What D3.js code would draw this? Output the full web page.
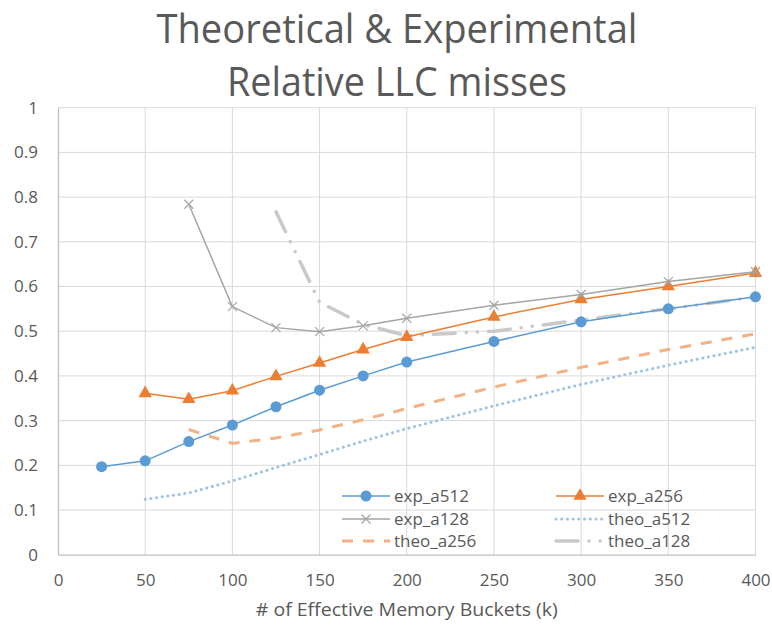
<!DOCTYPE html>
<html>
<head>
<meta charset="utf-8">
<script src="https://cdn.jsdelivr.net/npm/d3@7"></script>
<style>
  body { margin: 0; background: #fff; }
  text { font-family: "Open Sans", "Liberation Sans", sans-serif; fill: #595959; }
</style>
</head>
<body>
<div id="chart"></div>
<script>
// ---------------------------------------------------------------------------
// Data
// ---------------------------------------------------------------------------
const titleLines = ["Theoretical & Experimental", "Relative LLC misses"];
const xTicks = [0, 50, 100, 150, 200, 250, 300, 350, 400];
const yTicks = [0, 0.1, 0.2, 0.3, 0.4, 0.5, 0.6, 0.7, 0.8, 0.9, 1];

const expA512 = [[25, 0.197], [50, 0.21], [75, 0.253], [100, 0.29], [125, 0.331], [150, 0.368],
                 [175, 0.40], [200, 0.431], [250, 0.477], [300, 0.521], [350, 0.55], [400, 0.577]];
const expA256 = [[50, 0.361], [75, 0.348], [100, 0.367], [125, 0.399], [150, 0.429], [175, 0.459],
                 [200, 0.487], [250, 0.532], [300, 0.571], [350, 0.600], [400, 0.630]];
const expA128 = [[75, 0.784], [100, 0.555], [125, 0.508], [150, 0.499], [175, 0.512], [200, 0.529],
                 [250, 0.558], [300, 0.582], [350, 0.611], [400, 0.633]];
const theoA512 = [[50, 0.124], [75, 0.138], [100, 0.165], [125, 0.195], [150, 0.224], [175, 0.254],
                  [200, 0.282], [250, 0.333], [300, 0.381], [350, 0.424], [400, 0.464]];
const theoA256 = [[75, 0.28], [100, 0.249], [125, 0.261], [150, 0.279], [175, 0.302], [200, 0.327],
                  [250, 0.375], [300, 0.419], [350, 0.459], [400, 0.494]];
const theoA128 = [[125, 0.767], [150, 0.565], [175, 0.515], [200, 0.490], [250, 0.500], [300, 0.525],
                  [350, 0.550], [400, 0.577]];

const series = [
  { name: "exp_a512", values: expA512, color: "#5B9BD5", width: 1.5, dash: null, marker: "circle" },
  { name: "exp_a256", values: expA256, color: "#ED7D31", width: 1.5, dash: null, marker: "triangle" },
  { name: "exp_a128", values: expA128, color: "#A5A5A5", width: 1.5, dash: null, marker: "cross" },
  { name: "theo_a512", values: theoA512, color: "#9DC3E6", width: 3, dash: "0.1 5.6", cap: "round", marker: null },
  { name: "theo_a256", values: theoA256, color: "#F4B183", width: 3, dash: "11 10", marker: null },
  { name: "theo_a128", values: theoA128, color: "#C9C9C9", width: 3.5, dash: "22 11 0.1 11 0.1 11", cap: "round", marker: null }
];

// ---------------------------------------------------------------------------
// Canvas
// ---------------------------------------------------------------------------
const W = 772, H = 626;
const plot = { left: 58, right: 755.5, top: 107.7, bottom: 554.7 };

const svg = d3.select("#chart").append("svg")
    .attr("width", W)
    .attr("height", H);

const x = d3.scaleLinear().domain([0, 400]).range([plot.left, plot.right]);
const y = d3.scaleLinear().domain([0, 1]).range([plot.bottom, plot.top]);

// Title (two centred lines, squeezed a little to the reference widths)
const titleWidths = [481, 340];
svg.append("g").selectAll("text")
    .data(titleLines)
    .join("text")
    .attr("x", 397)
    .attr("y", (d, i) => 43 + i * 53)
    .attr("text-anchor", "middle")
    .attr("textLength", (d, i) => titleWidths[i])
    .attr("lengthAdjust", "spacingAndGlyphs")
    .style("font-size", "40px")
    .text(d => d);

// Gridlines
svg.append("g").selectAll("line.hgrid")
    .data(yTicks.slice(1))
    .join("line")
    .attr("x1", plot.left).attr("x2", plot.right)
    .attr("y1", d => y(d)).attr("y2", d => y(d))
    .attr("stroke", "#D9D9D9").attr("stroke-width", 1);

svg.append("g").selectAll("line.vgrid")
    .data(xTicks.slice(1))
    .join("line")
    .attr("x1", d => x(d)).attr("x2", d => x(d))
    .attr("y1", plot.top).attr("y2", plot.bottom)
    .attr("stroke", "#D9D9D9").attr("stroke-width", 1);

// Axes
const xAxis = svg.append("g")
    .attr("transform", `translate(0,${plot.bottom})`)
    .call(d3.axisBottom(x).tickValues(xTicks).tickSize(0).tickPadding(19).tickFormat(d3.format("d")));
const yAxis = svg.append("g")
    .attr("transform", `translate(${plot.left},0)`)
    .call(d3.axisLeft(y).tickValues(yTicks).tickSize(0).tickPadding(20).tickFormat(d => d === 0 ? "0" : d === 1 ? "1" : d3.format(".1f")(d)));

[xAxis, yAxis].forEach(a => {
  a.select(".domain").attr("stroke", "#BFBFBF").attr("stroke-width", 1.3);
  a.selectAll("text")
    .style("font-size", "17px")
    .style("font-family", "\"Open Sans\", sans-serif")
    .attr("fill", "#595959");
});

svg.append("text")
    .attr("x", (plot.left + plot.right) / 2)
    .attr("y", 616)
    .attr("text-anchor", "middle")
    .attr("textLength", 302)
    .attr("lengthAdjust", "spacingAndGlyphs")
    .style("font-size", "19px")
    .text("# of Effective Memory Buckets (k)");

// ---------------------------------------------------------------------------
// Lines and markers
// ---------------------------------------------------------------------------
const line = d3.line().x(d => x(d[0])).y(d => y(d[1]));
const drawOrder = [3, 4, 5, 0, 1, 2];

function drawMarker(g, type, color, cx, cy) {
  if (type === "circle") {
    g.append("circle").attr("cx", cx).attr("cy", cy).attr("r", 5.5).attr("fill", color);
  } else if (type === "triangle") {
    g.append("path")
      .attr("d", d3.symbol(d3.symbolTriangle, 78)())
      .attr("transform", `translate(${cx},${cy})`)
      .attr("fill", color);
  } else if (type === "cross") {
    const s = 4.5;
    g.append("path")
      .attr("d", `M${cx - s},${cy - s}L${cx + s},${cy + s}M${cx - s},${cy + s}L${cx + s},${cy - s}`)
      .attr("stroke", color).attr("stroke-width", 1.2).attr("fill", "none");
  }
}

drawOrder.forEach(i => {
  const s = series[i];
  const g = svg.append("g");
  g.append("path")
    .attr("d", line(s.values))
    .attr("fill", "none")
    .attr("stroke", s.color)
    .attr("stroke-width", s.width)
    .attr("stroke-dasharray", s.dash)
    .attr("stroke-linecap", s.cap || "butt")
    .attr("stroke-linejoin", "round");
  if (s.marker) s.values.forEach(d => drawMarker(g, s.marker, s.color, x(d[0]), y(d[1])));
});

// ---------------------------------------------------------------------------
// Legend
// ---------------------------------------------------------------------------
const legendPos = [
  [342, 496], [556, 496],
  [342, 519], [556, 519],
  [342, 541], [556, 541]
];

series.forEach((s, i) => {
  const [lx, ly] = legendPos[i];
  const g = svg.append("g");
  g.append("line")
    .attr("x1", lx).attr("x2", lx + 48)
    .attr("y1", ly).attr("y2", ly)
    .attr("stroke", s.color)
    .attr("stroke-width", s.width)
    .attr("stroke-dasharray", s.dash)
    .attr("stroke-linecap", s.cap || "butt");
  if (s.marker) drawMarker(g, s.marker, s.color, lx + 24, ly);
  g.append("text")
    .attr("x", lx + 52)
    .attr("y", ly)
    .attr("dy", "0.35em")
    .style("font-size", "17px")
    .text(s.name);
});
</script>
</body>
</html>
